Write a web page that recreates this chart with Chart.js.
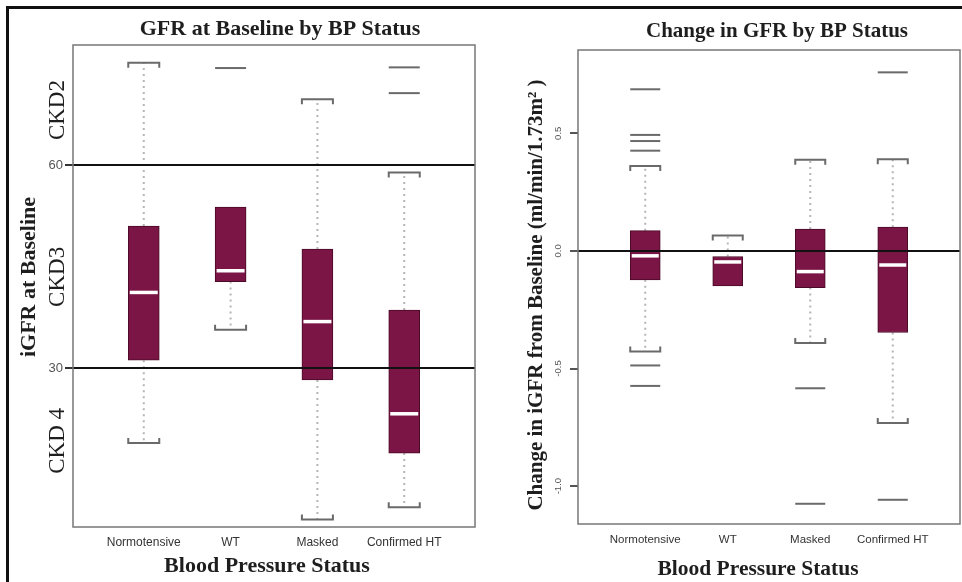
<!DOCTYPE html>
<html>
<head>
<meta charset="utf-8">
<script src="https://cdn.jsdelivr.net/npm/chart.js@4.4.1/dist/chart.umd.min.js"></script>
<style>
  html, body { margin: 0; padding: 0; background: #fff; }
  #wrap { position: relative; width: 962px; height: 582px; overflow: hidden; background: #fff; }
  canvas { position: absolute; top: 0; }
  #left { left: 0; }
  #right { left: 480px; }
  #frame { position: absolute; left: 6px; top: 6px; right: -4px; bottom: -4px;
           border-left: 3px solid #111; border-top: 3px solid #111; pointer-events: none; }
</style>
</head>
<body>
<div id="wrap">
  <canvas id="left" width="480" height="582"></canvas>
  <canvas id="right" width="482" height="582"></canvas>
  <div id="frame"></div>
</div>
<script>
// Blood pressure groups
const categories = ['Normotensive', 'WT', 'Masked', 'Confirmed HT'];

// Baseline iGFR: whisker ends, quartiles, medians, outliers
const baseLow      = [19.0, 35.7,  7.7,  9.5];
const baseQ1       = [31.2, 42.8, 28.3, 17.5];
const baseMedian   = [41.2, 44.4, 36.9, 23.3];
const baseQ3       = [51.0, 53.8, 47.6, 38.6];
const baseHigh     = [75.1, 53.8, 69.7, 58.9];
const baseOutliers = [[], [74.3], [], [74.4, 70.6]];
const baseTicks    = [30, 60];
const baseRange    = [6.6, 77.7];
const stageNames   = ['CKD2', 'CKD3', 'CKD 4'];
const stageAt      = [68.1, 43.5, 19.3];

// Change in iGFR from baseline
const chgLow      = [-0.428, -0.149, -0.392, -0.732];
const chgQ1       = [-0.123, -0.149, -0.156, -0.347];
const chgMedian   = [-0.021, -0.047, -0.088, -0.060];
const chgQ3       = [ 0.086, -0.024,  0.093,  0.101];
const chgHigh     = [ 0.361,  0.065,  0.387,  0.390];
const chgOutliers = [[0.687, 0.493, 0.467, 0.426, -0.487, -0.574], [], [-0.584, -1.075], [0.759, -1.058]];
const chgTicks    = [-1.0, -0.5, 0.0, 0.5];
const chgRange    = [-1.161, 0.854];

const xRange = [0.185, 4.815];

const BOX_FILL = '#7a1545';
const BOX_EDGE = '#4a0a27';
const SERIF = '"Liberation Serif", "Times New Roman", serif';
const SANS = '"Liberation Sans", Arial, sans-serif';

// Dotted whiskers with bracket-shaped caps, drawn under the boxes
function whiskerPlugin(stats, halfWidth) {
  return {
    id: 'whiskers',
    beforeDatasetsDraw(chart) {
      const { ctx, scales: { x, y } } = chart;
      ctx.save();
      categories.forEach((c, i) => {
        const px = x.getPixelForValue(i + 1);
        [[stats.q3[i], stats.high[i]], [stats.q1[i], stats.low[i]]].forEach(([from, to]) => {
          if (to === from) return;
          const y0 = y.getPixelForValue(from);
          const y1 = y.getPixelForValue(to);
          ctx.setLineDash([2, 4]);
          ctx.lineWidth = 2;
          ctx.strokeStyle = '#b5b5b5';
          ctx.beginPath();
          ctx.moveTo(px, y0);
          ctx.lineTo(px, y1);
          ctx.stroke();
          const dir = Math.sign(y0 - y1);
          ctx.setLineDash([]);
          ctx.strokeStyle = '#6a6a6a';
          ctx.beginPath();
          ctx.moveTo(px - halfWidth, y1 + dir * 5);
          ctx.lineTo(px - halfWidth, y1);
          ctx.lineTo(px + halfWidth, y1);
          ctx.lineTo(px + halfWidth, y1 + dir * 5);
          ctx.stroke();
        });
      });
      ctx.restore();
    }
  };
}

// Plot frame and the panel's titles
function decorPlugin(texts, stageLabels) {
  return {
    id: 'decor',
    afterDraw(chart) {
      const { ctx, chartArea: a, scales: { y } } = chart;
      ctx.save();
      ctx.lineWidth = 1.5;
      ctx.strokeStyle = '#777';
      ctx.strokeRect(a.left, a.top, a.right - a.left, a.bottom - a.top);
      ctx.fillStyle = '#1e1e1e';
      texts.forEach(t => {
        ctx.save();
        ctx.font = t.font;
        ctx.textAlign = 'center';
        ctx.textBaseline = t.rotate ? 'middle' : 'alphabetic';
        ctx.translate(t.x, t.y);
        if (t.rotate) ctx.rotate(-Math.PI / 2);
        ctx.fillText(t.text, 0, 0);
        ctx.restore();
      });
      if (stageLabels) {
        stageLabels.names.forEach((name, i) => {
          ctx.save();
          ctx.font = stageLabels.font;
          ctx.textAlign = 'center';
          ctx.textBaseline = 'middle';
          ctx.translate(stageLabels.x, y.getPixelForValue(stageLabels.at[i]));
          ctx.rotate(-Math.PI / 2);
          ctx.fillText(name, 0, 0);
          ctx.restore();
        });
      }
      ctx.restore();
    }
  };
}

function boxChart(canvasId, stats, cfg) {
  const boxes = categories.map((c, i) => ({ x: i + 1, y: [stats.q1[i], stats.q3[i]] }));
  const medians = categories.map((c, i) => ({ x: i + 1, y: stats.median[i] }));
  const outliers = stats.outliers.flatMap((vals, i) => vals.map(v => ({ x: i + 1, y: v })));
  const half = cfg.boxWidth / 2;

  return new Chart(document.getElementById(canvasId), {
    type: 'bar',
    data: {
      datasets: [
        { type: 'scatter', data: medians, order: 0,
          pointStyle: 'line', pointRadius: half - 1.5, pointHoverRadius: half - 1.5,
          pointBorderColor: '#ffffff', pointBorderWidth: 3.5, pointBackgroundColor: '#ffffff' },
        { type: 'scatter', data: outliers, order: 1,
          pointStyle: 'line', pointRadius: half, pointHoverRadius: half,
          pointBorderColor: '#6a6a6a', pointBorderWidth: 2, pointBackgroundColor: '#6a6a6a' },
        { type: 'bar', data: boxes, order: 2,
          backgroundColor: BOX_FILL, borderColor: BOX_EDGE, borderWidth: 1,
          borderSkipped: false, barThickness: cfg.boxWidth, grouped: false }
      ]
    },
    options: {
      responsive: false,
      animation: false,
      events: [],
      layout: { autoPadding: false, padding: { top: cfg.top, right: cfg.padRight, left: 0, bottom: 0 } },
      plugins: { legend: { display: false }, tooltip: { enabled: false }, title: { display: false } },
      scales: {
        x: {
          type: 'linear', min: xRange[0], max: xRange[1], offset: false,
          afterBuildTicks: s => { s.ticks = categories.map((c, i) => ({ value: i + 1 })); },
          afterFit: s => { s.height = cfg.xAxisHeight; },
          grid: { display: false, drawTicks: false },
          border: { display: false },
          ticks: {
            autoSkip: false, maxRotation: 0, padding: cfg.xPad,
            color: '#333', font: { family: SANS, size: cfg.xFont },
            callback: v => categories[v - 1]
          }
        },
        y: {
          type: 'linear', min: cfg.range[0], max: cfg.range[1],
          afterBuildTicks: s => { s.ticks = cfg.ticks.map(v => ({ value: v })); },
          afterFit: s => { s.width = cfg.yAxisWidth; },
          border: { display: false },
          grid: {
            z: 1, lineWidth: 2, tickLength: 8,
            color: cfg.gridColor, tickColor: cfg.tickColor
          },
          ticks: cfg.yTicks
        }
      }
    },
    plugins: [whiskerPlugin(stats, half), decorPlugin(cfg.texts, cfg.stages)]
  });
}

boxChart('left', {
  low: baseLow, q1: baseQ1, median: baseMedian, q3: baseQ3, high: baseHigh, outliers: baseOutliers
}, {
  range: baseRange, ticks: baseTicks,
  top: 45, padRight: 5, xAxisHeight: 55, yAxisWidth: 73,
  boxWidth: 31, xPad: 8, xFont: 12,
  gridColor: '#111', tickColor: '#333',
  yTicks: { padding: 2, color: '#555', font: { family: SANS, size: 13 }, callback: v => String(v) },
  texts: [
    { text: 'GFR at Baseline by BP Status', x: 280, y: 35, font: 'bold 22px ' + SERIF },
    { text: 'Blood Pressure Status', x: 267, y: 572, font: 'bold 22px ' + SERIF },
    { text: 'iGFR at Baseline', x: 29, y: 277, font: 'bold 22px ' + SERIF, rotate: true }
  ],
  stages: { names: stageNames, at: stageAt, x: 57.5, font: '23px ' + SERIF }
});

boxChart('right', {
  low: chgLow, q1: chgQ1, median: chgMedian, q3: chgQ3, high: chgHigh, outliers: chgOutliers
}, {
  range: chgRange, ticks: chgTicks,
  top: 50, padRight: 2, xAxisHeight: 58, yAxisWidth: 98,
  boxWidth: 30, xPad: 9, xFont: 11.5,
  gridColor: c => (c.tick && c.tick.value === 0 ? '#111' : 'rgba(0,0,0,0)'),
  tickColor: '#555',
  yTicks: {
    padding: 3, minRotation: 90, maxRotation: 90, crossAlign: 'center',
    color: '#555', font: { family: SANS, size: 9.5 }, callback: v => v.toFixed(1)
  },
  texts: [
    { text: 'Change in GFR by BP Status', x: 297, y: 37, font: 'bold 21px ' + SERIF },
    { text: 'Blood Pressure Status', x: 278, y: 575, font: 'bold 21.5px ' + SERIF },
    { text: 'Change in iGFR from Baseline (ml/min/1.73m\u00B2 )', x: 57, y: 295, font: 'bold 21px ' + SERIF, rotate: true }
  ],
  stages: null
});
</script>
</body>
</html>
